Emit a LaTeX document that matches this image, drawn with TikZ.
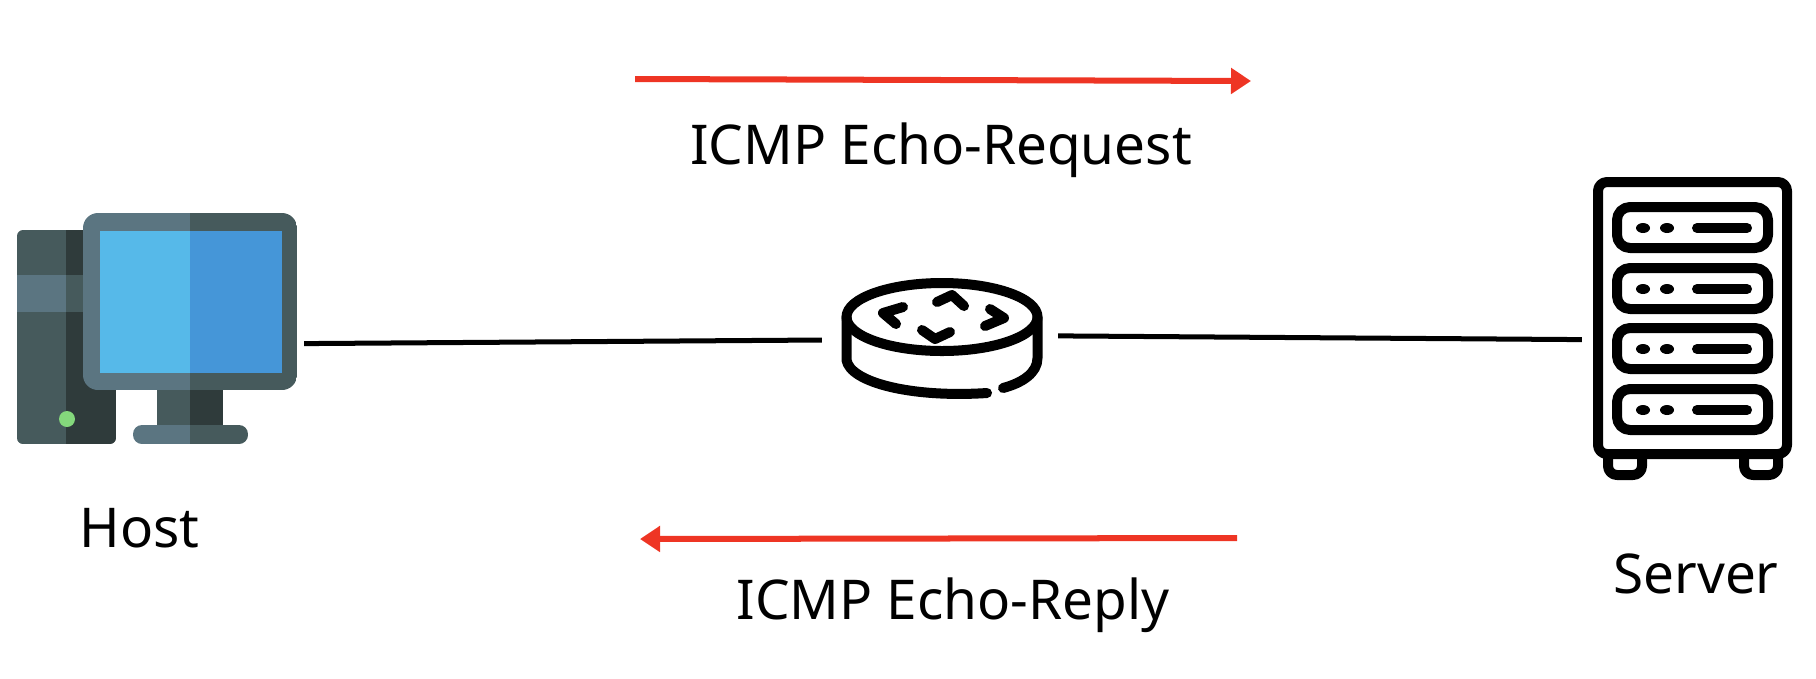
\documentclass[tikz,border=0pt]{standalone}
\usepackage{fontspec}
\setmainfont{Noto Sans}
\usetikzlibrary{arrows.meta}

\definecolor{pingred}{HTML}{EE3524}
\definecolor{slatelight}{HTML}{5B7581}
\definecolor{slatemid}{HTML}{465A5C}
\definecolor{slatedark}{HTML}{2F3B3B}
\definecolor{screenlight}{HTML}{56B9E9}
\definecolor{screendark}{HTML}{4596D8}
\definecolor{ledgreen}{HTML}{84D87C}

\tikzset{
    iconbox/.style={inner sep=0pt, outer sep=0pt},
    caption/.style={inner sep=0pt, anchor=base, font=\fontsize{15.6}{20}\selectfont},
    wire/.style={black, line width=0.05cm},
    ping/.style={pingred, line width=0.06cm, -{Triangle[length=0.2cm, width=0.25cm]}},
    glyph/.style={black, line width=0.1cm, line cap=round, line join=round}
}

\begin{document}
\begin{tikzpicture}[x=0.01cm, y=-0.01cm]
    \useasboundingbox (0,0) rectangle (1816,678);

    % Host tower
    \begin{scope}
        \clip[rounded corners=0.06cm] (17,230) rectangle (116,444);
        \fill[slatemid] (17,230) rectangle (66,444);
        \fill[slatedark] (66,230) rectangle (116,444);
        \fill[slatelight] (17,275) rectangle (66,312);
        \fill[slatemid] (66,275) rectangle (116,312);
    \end{scope}
    \fill[ledgreen] (67,419) circle (8);

    % Host monitor
    \begin{scope}
        \clip[rounded corners=0.15cm] (83,213) rectangle (297,390);
        \fill[slatelight] (83,213) rectangle (190,390);
        \fill[slatemid] (190,213) rectangle (297,390);
    \end{scope}
    \fill[screenlight] (100,231) rectangle (190,373);
    \fill[screendark] (190,231) rectangle (282,373);
    \fill[slatemid] (157,390) rectangle (190,425);
    \fill[slatedark] (190,390) rectangle (223,425);
    \begin{scope}
        \clip[rounded corners=0.09cm] (133,425) rectangle (248,444);
        \fill[slatelight] (133,425) rectangle (190,444);
        \fill[slatemid] (190,425) rectangle (248,444);
    \end{scope}

    % Router
    \draw[glyph] (942,317) ellipse (95.5 and 34);
    \draw[glyph] (846.5,317) -- (846.5,360) .. controls (850,382) and (910,398) .. (987,393);
    \draw[glyph] (1003,388) .. controls (1022,383) and (1037.5,373) .. (1037.5,358) -- (1037.5,317);
    \draw[glyph] (903,307) -- (883,313) -- (896,324);
    \draw[glyph] (937,302) -- (952,295) -- (964,306);
    \draw[glyph] (990,309) -- (1004,318) -- (985,326);
    \draw[glyph] (922,330) -- (935,339) -- (950,332);

    % Server
    \draw[glyph, rounded corners=0.09cm] (1598,182) rectangle (1787,454);
    \draw[glyph, rounded corners=0.09cm] (1608,456) -- (1608,475) -- (1642,475) -- (1642,456);
    \draw[glyph, rounded corners=0.09cm] (1744,456) -- (1744,475) -- (1778,475) -- (1778,456);
    \foreach \slot in {207,268,328,389} {
        \draw[glyph, rounded corners=0.13cm] (1617,\slot) rectangle (1768,\slot+41);
        \fill[black] (1643,\slot+21) ellipse (7 and 5);
        \fill[black] (1667,\slot+21) ellipse (7 and 5);
        \draw[glyph] (1697,\slot+21) -- (1747,\slot+21);
    }

    % Boxes the wires run between
    \node[iconbox, minimum width=2.87cm, minimum height=2.31cm] (host) at (160.5,328.5) {};
    \node[iconbox, minimum width=2.36cm, minimum height=1.24cm] (router) at (940,340) {};
    \node[iconbox, minimum width=2.11cm, minimum height=3.03cm] (server) at (1687.5,328.5) {};

    \draw[wire] (host.-6.6) -- (router.west);
    \draw[wire] (router.2) -- (server.186.2);

    % Echo arrows
    \coordinate (reqstart) at (635,79);
    \coordinate (reqend) at (1251,81);
    \coordinate (repstart) at (1237,538);
    \coordinate (repend) at (640,539);
    \draw[ping] (reqstart) -- (reqend);
    \draw[ping] (repstart) -- (repend);

    % Labels
    \node[caption] (request) at (941,164) {ICMP Echo-Request};
    \node[caption] (reply) at (953,619) {ICMP Echo-Reply};
    \node[caption] (hostlabel) at (139.5,547) {Host};
    \node[caption] (serverlabel) at (1696,593) {Server};
\end{tikzpicture}
\end{document}
